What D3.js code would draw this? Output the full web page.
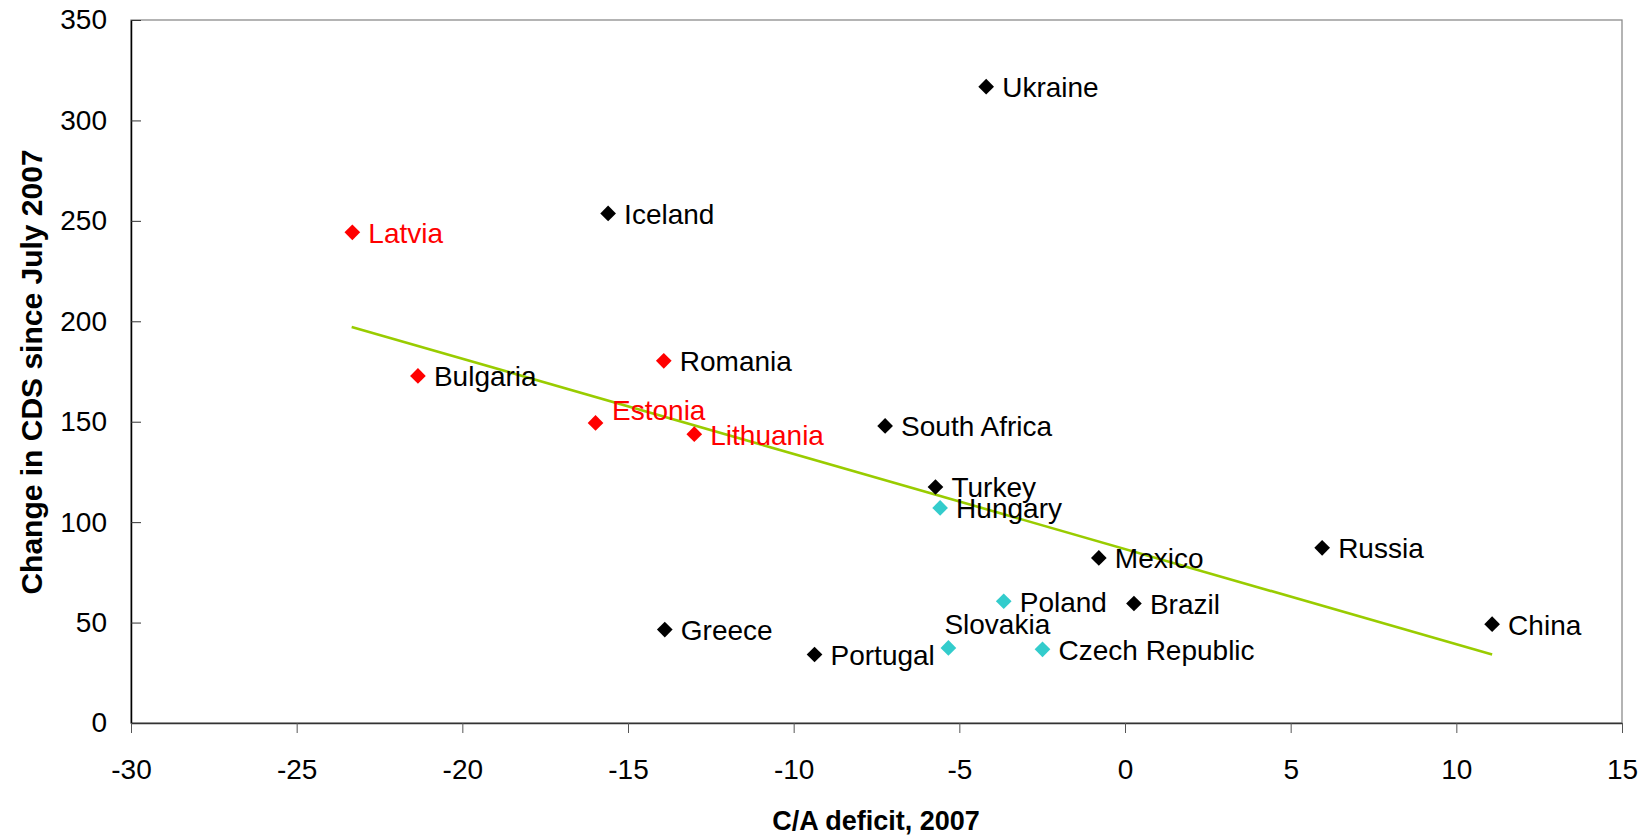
<!DOCTYPE html>
<html>
<head>
<meta charset="utf-8">
<script src="https://cdn.jsdelivr.net/npm/d3@7"></script>
<style>
  body { margin: 0; background: #fff; }
  svg { display: block; font-family: "Liberation Sans", Arial, sans-serif; }
</style>
</head>
<body>
<svg width="1644" height="838"></svg>
<script>
// data
var countries = ["Ukraine", "Iceland", "Latvia", "Bulgaria", "Romania", "Estonia", "Lithuania",
                 "South Africa", "Turkey", "Hungary", "Mexico", "Russia", "Poland", "Brazil",
                 "Slovakia", "Czech Republic", "Greece", "Portugal", "China"];
var caDeficit = [-4.19, -15.6, -23.32, -21.34, -13.92, -15.98, -13.0,
                 -7.24, -5.72, -5.58, -0.79, 5.95, -3.66, 0.27,
                 -5.33, -2.49, -13.89, -9.37, 11.08];
var cdsChange = [316.8, 253.7, 244.3, 172.8, 180.3, 149.4, 143.8,
                 147.9, 117.5, 107.1, 82.2, 87.2, 60.6, 59.5,
                 37.4, 36.7, 46.5, 34.1, 49.2];
var groups = ["other", "other", "baltic", "baltic", "baltic", "baltic", "baltic",
              "other", "other", "cee", "other", "other", "cee", "other",
              "cee", "cee", "other", "other", "other"];
var redLabels = ["Latvia", "Estonia", "Lithuania"];

// trendline end points
var trendX = [-23.34, 11.08];
var trendY = [197.2, 34.1];

var xTicks = [-30, -25, -20, -15, -10, -5, 0, 5, 10, 15];
var yTicks = [0, 50, 100, 150, 200, 250, 300, 350];

var svg = d3.select("svg"),
    margin = {top: 20, right: 22, bottom: 115, left: 131},
    width = +svg.attr("width") - margin.left - margin.right,
    height = +svg.attr("height") - margin.top - margin.bottom;

var g = svg.append("g").attr("transform", "translate(" + margin.left + "," + margin.top + ")");

var x = d3.scaleLinear().domain([-30, 15]).range([0, width]);
var y = d3.scaleLinear().domain([0, 350]).range([height, 0]);

var color = d3.scaleOrdinal()
    .domain(["other", "baltic", "cee"])
    .range(["#000000", "#ff0000", "#33cccc"]);

// plot frame
g.append("rect")
    .attr("width", width)
    .attr("height", height)
    .attr("fill", "none")
    .attr("stroke", "#8c8c8c")
    .attr("stroke-width", 1.3);

// plain hyphen minus, like the original
var plain = function(d) { return String(d); };

var yAxis = g.append("g")
    .call(d3.axisLeft(y).tickValues(yTicks).tickFormat(plain)
      .tickSizeInner(-10).tickSizeOuter(0).tickPadding(24));
yAxis.select(".domain").attr("stroke", "#000").attr("stroke-width", 1.5);
yAxis.selectAll(".tick line").attr("stroke", "#333");
yAxis.selectAll("text").attr("font-size", 28).attr("fill", "#000").attr("font-family", null);

var xAxis = g.append("g")
    .attr("transform", "translate(0," + height + ")")
    .call(d3.axisBottom(x).tickValues(xTicks).tickFormat(plain)
      .tickSizeInner(10).tickSizeOuter(0).tickPadding(26));
xAxis.select(".domain").attr("stroke", "#333").attr("stroke-width", 1.5);
xAxis.selectAll(".tick line").attr("stroke", "#555");
xAxis.selectAll("text").attr("font-size", 28).attr("fill", "#000").attr("font-family", null);

// axis titles
svg.append("text")
    .attr("x", 876)
    .attr("y", 830)
    .attr("text-anchor", "middle")
    .attr("font-size", 27)
    .attr("font-weight", "bold")
    .text("C/A deficit, 2007");

svg.append("text")
    .attr("transform", "translate(42,372) rotate(-90)")
    .attr("text-anchor", "middle")
    .attr("font-size", 30)
    .attr("font-weight", "bold")
    .text("Change in CDS since July 2007");

// trendline
g.append("line")
    .attr("x1", x(trendX[0]))
    .attr("y1", y(trendY[0]))
    .attr("x2", x(trendX[1]))
    .attr("y2", y(trendY[1]))
    .attr("stroke", "#99cc00")
    .attr("stroke-width", 2.6);

var points = countries.map(function(c, i) {
  return {name: c, x: caDeficit[i], y: cdsChange[i], group: groups[i]};
});

// labels that Excel placed away from the default right position
var nudge = {"Estonia": [0.5, -13.5], "Slovakia": [-20, -24.5]};

var diamond = d3.symbol().type(d3.symbolSquare).size(123);

var node = g.append("g")
    .selectAll("g")
    .data(points)
    .enter().append("g")
      .attr("transform", function(d) { return "translate(" + x(d.x) + "," + y(d.y) + ")"; });

node.append("path")
    .attr("d", diamond)
    .attr("transform", "rotate(45)")
    .attr("fill", function(d) { return color(d.group); });

node.append("text")
    .attr("x", function(d) { return 16 + (nudge[d.name] ? nudge[d.name][0] : 0); })
    .attr("y", function(d) { return 10.5 + (nudge[d.name] ? nudge[d.name][1] : 0); })
    .attr("font-size", 28)
    .attr("fill", function(d) { return redLabels.indexOf(d.name) >= 0 ? "#ff0000" : "#000"; })
    .text(function(d) { return d.name; });
</script>
</body>
</html>
